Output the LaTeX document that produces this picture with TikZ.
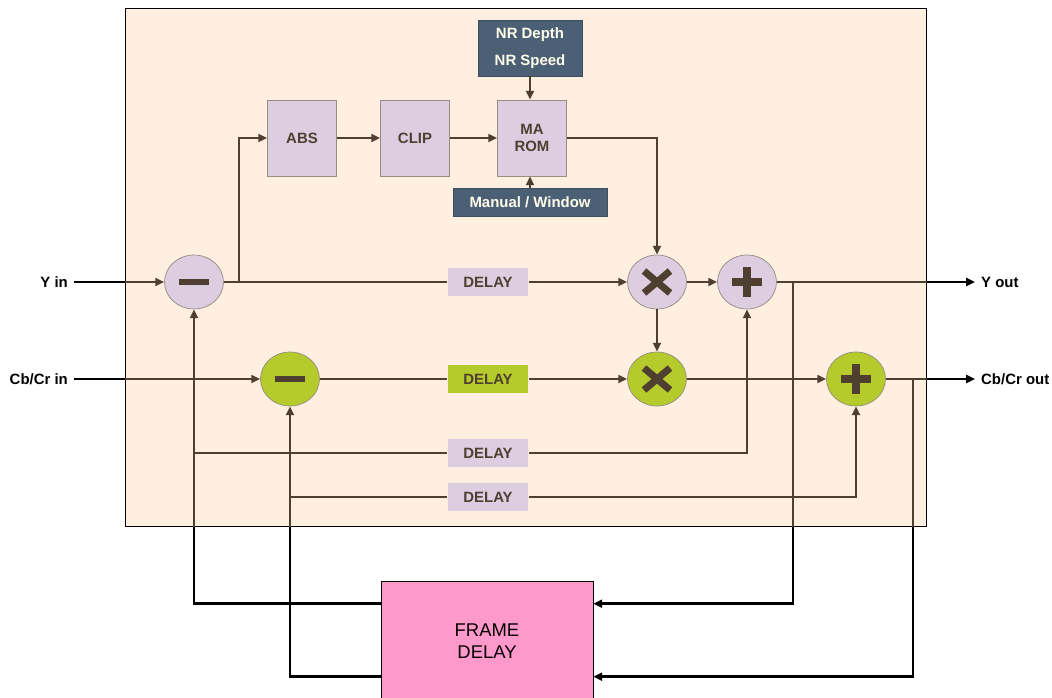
\documentclass[tikz,border=0pt]{standalone}
\usepackage{fontspec}
\setmainfont{Liberation Sans}
\usetikzlibrary{positioning, arrows.meta, calc, shapes.geometric}

\definecolor{panelbg}{HTML}{FEEFE0}
\definecolor{wire}{HTML}{4E3F30}
\definecolor{lilac}{HTML}{DCCDE1}
\definecolor{lime}{HTML}{B5CA2B}
\definecolor{slate}{HTML}{4B6075}
\definecolor{pinkbox}{HTML}{FF99CC}

\begin{document}
\begin{tikzpicture}[x=0.02cm, y=-0.02cm,
                blk/.style={draw=wire!60, fill=lilac, minimum width=1.38cm, minimum height=1.52cm, align=center, inner sep=1pt, font=\fontsize{8.5}{10}\selectfont\bfseries, text=wire},
                ctrl/.style={draw=slate!80!black, fill=slate, text=white!92!yellow, align=center, inner sep=0pt, font=\fontsize{8.5}{15}\selectfont\bfseries},
                op/.style={ellipse, draw=wire!60, minimum width=1.18cm, minimum height=1.08cm, inner sep=0pt},
                yop/.style={op, fill=lilac},
                cop/.style={op, fill=lime},
                signpen/.style={wire, line cap=butt},
                opminus/.style={path picture={\draw[signpen, line width=3.5pt] ($(path picture bounding box.center)+(-15,0)$) -- +(30,0);}},
                opplus/.style={path picture={\draw[signpen, line width=4.3pt] ($(path picture bounding box.center)+(-15,0)$) -- +(30,0) ($(path picture bounding box.center)+(0,-15)$) -- +(0,30);}},
                optimes/.style={path picture={\draw[signpen, line width=4pt] ($(path picture bounding box.center)+(-13,-11)$) -- +(26,22) ($(path picture bounding box.center)+(-13,11)$) -- +(26,-22);}},
                dly/.style={minimum width=1.62cm, minimum height=0.56cm, inner sep=0pt, text=wire, font=\fontsize{8.5}{10}\selectfont\bfseries},
                flow/.style={draw=wire, line width=1.1pt},
                arr/.style={flow, -{Triangle[length=5pt, width=4.5pt]}},
                ext/.style={draw=black, line width=1.4pt},
                extarr/.style={ext, -{Triangle[length=5pt, width=4.5pt]}},
                io/.style={font=\fontsize{8.5}{10}\selectfont\bfseries},
            ]
            \useasboundingbox (0,0) rectangle (1052,697);

            % Noise reduction panel:
            \node[draw=black, line width=0.6pt, fill=panelbg, minimum width=16.04cm, minimum height=10.38cm, inner sep=0pt] (panel) at (526,267.5) {};

            % Motion detection chain:
            \node[blk] (abs)    at (302,138) {ABS};
            \node[blk] (clip)   at (415,138) {CLIP};
            \node[blk] (marom)  at (532,138) {MA\\ROM};
            \node[ctrl, minimum width=2.08cm, minimum height=1.12cm] (nr) at (530,48) {NR Depth\\NR Speed};
            \node[ctrl, minimum width=3.08cm, minimum height=0.56cm] (manual) at (530,202) {Manual / Window};

            % Luma and chroma operators:
            \node[yop, opminus] (suby) at (194,282) {};
            \node[yop, optimes] (muly) at (657,282) {};
            \node[yop, opplus]  (addy) at (747,282) {};
            \node[cop, opminus] (subc) at (290,379) {};
            \node[cop, optimes] (mulc) at (657,379) {};
            \node[cop, opplus]  (addc) at (856,379) {};

            % Delays:
            \node[dly, fill=lilac] (dlyy)  at (488,282) {DELAY};
            \node[dly, fill=lime]  (dlyc)  at (488,379) {DELAY};
            \node[dly, fill=lilac] (dlyr1) at (488,453) {DELAY};
            \node[dly, fill=lilac] (dlyr2) at (488,497) {DELAY};

            \node[draw=black, fill=pinkbox, minimum width=4.24cm, minimum height=2.4cm, align=center, font=\fontsize{10.5}{12.5}\selectfont] (fd) at (487,641) {FRAME\\DELAY};

            % Inputs and outputs:
            \node[io, anchor=east] (yin)  at (74,282)  {Y in};
            \node[io, anchor=east] (cin)  at (74,379)  {Cb/Cr in};
            \node[io, anchor=west] (yout) at (975,282) {Y out};
            \node[io, anchor=west] (cout) at (975,379) {Cb/Cr out};

            % Luma path:
            \draw[ext] (yin.east) -- (yin.east -| panel.west);
            \draw[arr] (yin.east -| panel.west) -- (suby);
            \draw[flow] (suby) -- (dlyy);
            \draw[arr] (dlyy) -- (muly);
            \coordinate (tapabs) at ($(suby.east)+(15,0)$);
            \draw[arr] (tapabs) |- (abs);
            \draw[arr] (abs) -- (clip);
            \draw[arr] (clip) -- (marom);
            \draw[arr] (nr.south) -- (nr.south |- marom.north);
            \draw[arr] (manual.north) -- (manual.north |- marom.south);
            \draw[arr] (marom.east) -| (muly.north);
            \draw[arr] (muly) -- (addy);
            \draw[arr] (muly) -- (mulc);
            \draw[flow] (addy.east) -- (addy.east -| panel.east);
            \draw[extarr] (addy.east -| panel.east) -- (yout.west);

            % Chroma path:
            \draw[ext] (cin.east) -- (cin.east -| panel.west);
            \draw[arr] (cin.east -| panel.west) -- (subc);
            \draw[flow] (subc) -- (dlyc);
            \draw[arr] (dlyc) -- (mulc);
            \draw[arr] (mulc) -- (addc);
            \draw[flow] (addc.east) -- (addc.east -| panel.east);
            \draw[extarr] (addc.east -| panel.east) -- (cout.west);

            % Frame delay loop:
            \coordinate (ytap) at ($(addy.east)+(16,0)$);
            \coordinate (ctap) at ($(addc.east)+(27,0)$);
            \coordinate (fdinA)  at ($(fd.north east)+(0,23)$);
            \coordinate (fdinB)  at ($(fd.north east)+(0,96)$);
            \coordinate (fdoutA) at ($(fd.north west)+(0,23)$);
            \coordinate (fdoutB) at ($(fd.north west)+(0,96)$);
            \draw[flow] (ytap) -- (ytap |- panel.south);
            \draw[extarr] (ytap |- panel.south) |- (fdinA);
            \draw[flow] (ctap) -- (ctap |- panel.south);
            \draw[extarr] (ctap |- panel.south) |- (fdinB);
            \draw[ext] (fdoutA) -| (suby.south |- panel.south);
            \draw[arr] (suby.south |- panel.south) -- (suby.south);
            \draw[ext] (fdoutB) -| (subc.south |- panel.south);
            \draw[arr] (subc.south |- panel.south) -- (subc.south);

            % Delayed previous frame into the adders:
            \draw[flow] (suby.south |- dlyr1) -- (dlyr1);
            \draw[arr] (dlyr1) -| (addy.south);
            \draw[flow] (subc.south |- dlyr2) -- (dlyr2);
            \draw[arr] (dlyr2) -| (addc.south);
        \end{tikzpicture}
\end{document}
